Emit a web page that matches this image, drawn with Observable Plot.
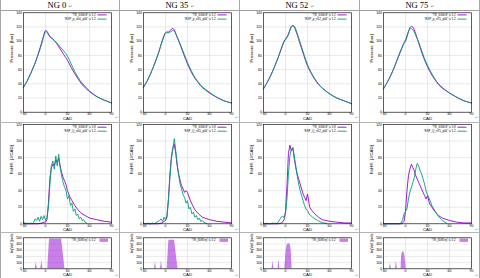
<!DOCTYPE html>
<html><head><meta charset="utf-8">
<script src="https://cdn.jsdelivr.net/npm/d3@7"></script>
<script src="https://cdn.jsdelivr.net/npm/@observablehq/plot@0.6"></script>
<style>
body{margin:0;background:#fff;}
#root{position:relative;width:480px;height:278px;overflow:hidden;background:#fff;}
.vline{position:absolute;top:0;height:278px;width:1px;background:#a8a8a8;}
.hline{position:absolute;left:0;width:480px;background:#b4b4b4;}
.head{position:absolute;top:0;width:120px;text-align:center;font-family:"Liberation Serif",serif;font-size:8.5px;line-height:11px;color:#000;}
.head span{color:#999;font-size:5px;font-family:"DejaVu Sans",sans-serif;}
.panel{position:absolute;}
.pm{position:absolute;color:#999;font-size:4.5px;line-height:4.5px;font-family:"DejaVu Sans",sans-serif;}
</style></head><body><div id="root"></div>
<script>
// ---------- data ----------
const columns = ["NG 0", "NG 35", "NG 52", "NG 75"];
const xTicks = [-30, 0, 30, 60, 90];
const pTicks = [0, 20, 40, 60, 80, 100, 120, 140];
const rTicks = [0, 20, 40, 60, 80, 100, 120];
const iTicks = [0, 100, 200, 300, 400, 500];

// Pressure [bar]
const pCad = [-30,-25,-20,-15,-10,-5,-2,0,2,4,6,8,10,12,15,20,25,30,35,40,45,50,60,70,80,90];
const pSimNG0 = [35,44,55,67,82,99,110,115,114,110,107,105,103,101,97,89,81,73,63,54,46,39,29,22,17,13];
const pExpNG0 = [35,44,55,67,81,97,108,113,113,109,106,104,103,101,98,92,86,79,68,57,48,41,30,22,17,13];
const pSimNG35 = [35,44,55,68,82,99,108,112,113,113,114,117,118,116,108,95,81,68,57,48,41,35,27,21,16,13];
const pExpNG35 = [35,44,55,68,82,98,107,111,112,112,112,114,115,114,108,96,83,70,59,49,42,36,28,21,16,13];
const pSimNG52 = [33,42,52,64,77,92,100,103,106,110,116,121,122,120,112,96,80,65,55,46,39,34,26,20,16,12];
const pExpNG52 = [33,42,52,64,77,91,99,102,105,109,115,120,122,121,114,98,82,67,56,47,40,34,26,20,16,12];
const pSimNG75 = [33,42,52,64,77,90,97,100,106,113,119,121,120,116,107,91,76,64,54,46,39,34,27,21,16,13];
const pExpNG75 = [33,42,52,64,78,91,98,102,108,114,117,118,116,113,106,93,78,66,56,47,40,35,27,21,16,13];

// RoHR [J/CAD] simulation
const rCad = [-30,-10,-5,-2,0,2,4,6,8,10,12,14,16,18,20,22,24,26,28,30,33,36,40,45,50,60,70,80,90];
const rSimNG0 = [0,0,1,2,2,5,25,55,68,72,70,77,74,79,70,62,56,52,47,40,33,28,22,16,12,7,5,3,2];
const rSimNG35 = [0,0,1,3,4,8,30,60,80,92,96,85,70,60,52,46,42,38,40,38,30,24,17,12,8,5,3,2,1];
const rSimNG52 = [0,0,1,5,15,45,85,95,88,92,78,68,60,54,48,42,36,32,28,36,20,16,12,8,5,3,2,1,1];
const rSimNG75 = [0,0,0,3,15,40,58,66,72,68,64,58,54,50,46,42,38,34,30,34,24,20,15,10,7,4,2,1,1];

// RoHR [J/CAD] experiment
const eCad = [-30,-28,-26,-24,-22,-20,-18,-16,-14,-12,-10,-8,-6,-4,-2,0,2,4,6,8,10,12,14,16,18,20,22,24,26,28,30,32,34,36,38,40,42,44,46,48,50,52,54,56];
const eExpNG0 = [2,1,0,1,0,1,0,2,6,4,8,3,9,5,10,4,8,20,48,70,76,66,82,70,84,68,58,50,44,40,30,34,22,25,15,18,10,12,6,8,4,5,2,1];
const eExpNG35 = [1,0,0,1,0,0,1,0,1,2,3,4,6,3,8,5,10,28,55,78,90,103,88,72,58,48,42,35,32,25,28,18,20,12,14,8,10,5,7,3,4,2,1,0];
const eExpNG52 = [0,0,1,0,0,0,1,0,1,0,2,5,8,9,8,12,30,60,82,90,92,82,70,58,48,40,34,28,22,18,16,12,10,9,7,6,5,4,3,2,2,1,1,0];
const eExpNG75 = [0,0,0,0,0,0,0,0,0,0,0,0,1,5,12,15,18,30,38,44,50,56,66,73,70,64,60,54,48,40,35,31,27,22,19,16,13,10,8,6,4,3,2,1];

// Injection velocity
const iCadNG0 = [-14,-12.5,-11,-6.5,-5,-3.5,3,5.5,22,26.5];
const iVelNG0 = [0,100,0,0,130,0,0,480,480,0];
const iCadNG35 = [-15,-13.7,-12.4,-6.8,-5.5,-4.2,2.3,4.6,12.4,17];
const iVelNG35 = [0,110,0,0,130,0,0,460,460,0];
const iCadNG52 = [-18.3,-17,-15.7,-10.3,-9,-7.7,-1,0,1,2,3.5,5.5,7,8,9];
const iVelNG52 = [0,120,0,0,150,0,0,150,300,370,405,405,370,250,0];
const iCadNG75 = [-21.9,-20.6,-19.3,-13.7,-12.4,-11.1,-6,-5.5,-4.5,-3,-1.5,-0.5,1];
const iVelNG75 = [0,90,0,0,120,0,0,180,260,275,260,180,0];

const simLabels = ['"TR_65W.ifl" u 1:2', '"TR_65W.ifl" u 1:8', '"TR_65W.inj" u 1:2'];
const expP = ['"EXP_p_n00_p00" u 1:2', '"EXP_p_n35_p00" u 1:2', '"EXP_p_n52_p00" u 1:2', '"EXP_p_n75_p00" u 1:2'];
const expQ = ['"EXP_Q_n00_p00" u 1:2', '"EXP_Q_n35_p00" u 1:2', '"EXP_Q_n52_p00" u 1:2', '"EXP_Q_n75_p00" u 1:2'];

const PURPLE = "#9400d3", TEAL = "#009e73";
const FONT = "'Liberation Sans', Arial, sans-serif";

const pressure = [[pSimNG0,pExpNG0],[pSimNG35,pExpNG35],[pSimNG52,pExpNG52],[pSimNG75,pExpNG75]];
const rohrSim = [rSimNG0, rSimNG35, rSimNG52, rSimNG75];
const rohrExp = [eExpNG0, eExpNG35, eExpNG52, eExpNG75];
const inj = [[iCadNG0,iVelNG0],[iCadNG35,iVelNG35],[iCadNG52,iVelNG52],[iCadNG75,iVelNG75]];

const zip = (xs, ys) => xs.map((x, i) => ({x, y: ys[i]}));

// ---------- layout ----------
const root = document.getElementById("root");
function div(cls, style, html) {
  const d = document.createElement("div");
  d.className = cls; Object.assign(d.style, style);
  if (html != null) d.innerHTML = html;
  root.appendChild(d); return d;
}

function panel({height, mt, mb, yDomain, yTicks, yLabel, marks}) {
  return Plot.plot({
    width: 120, height,
    marginLeft: 23, marginRight: 9, marginTop: mt, marginBottom: mb,
    style: {background: "transparent", fontFamily: FONT, fontSize: "3.5px", color: "#000", overflow: "visible"},
    x: {domain: [-30, 90]},
    y: {domain: yDomain},
    marks: [
      Plot.gridX({ticks: xTicks, stroke: "#d4d4d4", strokeOpacity: 1, strokeWidth: 0.5}),
      Plot.gridY({ticks: yTicks, stroke: "#d4d4d4", strokeOpacity: 1, strokeWidth: 0.5}),
      ...marks,
      Plot.frame({stroke: "#000", strokeWidth: 0.6}),
      Plot.axisX({ticks: xTicks, tickSize: 0, tickPadding: 0.5, fontSize: 3.5, label: null}),
      Plot.axisY({ticks: yTicks, tickSize: 0, tickPadding: 1.5, fontSize: 3.5, label: null}),
      Plot.text(["CAD"], {frameAnchor: "bottom", dy: 7.3, fontSize: 4.3}),
      Plot.text([yLabel], {frameAnchor: "left", dx: -11.5, rotate: -90, fontSize: 4.3})
    ]
  });
}

function legend(svg, rows, y0, dy) {
  const g = d3.select(svg).append("g").attr("font-family", FONT).attr("font-size", 2.9);
  rows.forEach((r, i) => {
    const y = y0 + i * dy;
    g.append("text").attr("x", 95.5).attr("y", y).attr("dy", "0.35em").attr("text-anchor", "end").attr("fill", "#000").text(r.label);
    if (r.box) g.append("rect").attr("x", 99.5).attr("y", y - 1.7).attr("width", 8.5).attr("height", 3.4).attr("fill", r.color).attr("fill-opacity", 0.5);
    else g.append("line").attr("x1", 97.5).attr("x2", 106.5).attr("y1", y).attr("y2", y).attr("stroke", r.color).attr("stroke-width", 0.9);
  });
}

columns.forEach((name, c) => {
  const x0 = c * 120;
  div("head", {left: x0 + "px"}, name + ' <span>↵</span>');

  // pressure
  const [ps, pe] = pressure[c];
  const sp = panel({height: 110, mt: 1.3, mb: 9.3, yDomain: [0, 140], yTicks: pTicks, yLabel: "Pressure  [bar]",
    marks: [
      Plot.line(zip(pCad, ps), {x: "x", y: "y", stroke: PURPLE, strokeWidth: 0.9, curve: "catmull-rom"}),
      Plot.line(zip(pCad, pe), {x: "x", y: "y", stroke: TEAL, strokeWidth: 0.9, curve: "catmull-rom"})
    ]});
  legend(sp, [{label: simLabels[0], color: PURPLE}, {label: expP[c], color: TEAL}], 3.9, 4.2);
  div("panel", {left: x0 + "px", top: "11px"}).appendChild(sp);

  // RoHR
  const sr = panel({height: 109, mt: 1, mb: 8.7, yDomain: [0, 120], yTicks: rTicks, yLabel: "RoHR  [J/CAD]",
    marks: [
      Plot.line(zip(rCad, rohrSim[c]), {x: "x", y: "y", stroke: PURPLE, strokeWidth: 0.9}),
      Plot.line(zip(eCad, rohrExp[c]), {x: "x", y: "y", stroke: TEAL, strokeWidth: 0.9})
    ]});
  legend(sr, [{label: simLabels[1], color: PURPLE}, {label: expQ[c], color: TEAL}], 4.2, 4.0);
  div("panel", {left: x0 + "px", top: "123px"}).appendChild(sr);

  // injection
  const [ic, iv] = inj[c];
  const si = panel({height: 45, mt: 4.3, mb: 9.7, yDomain: [0, 500], yTicks: iTicks, yLabel: "InjVel [m/s]",
    marks: [
      Plot.areaY(zip(ic, iv), {x: "x", y: "y", fill: PURPLE, fillOpacity: 0.5})
    ]});
  legend(si, [{label: simLabels[2], color: PURPLE, box: true}], 7.2, 4);
  div("panel", {left: x0 + "px", top: "233px"}).appendChild(si);

  // paragraph marks
  div("pm", {left: (x0 + 115) + "px", top: "116px"}, "↵");
  div("pm", {left: (x0 + 115) + "px", top: "227.5px"}, "↵");
  div("pm", {left: (x0 + 115) + "px", top: "273.5px"}, "↵");
});

// table borders
[0, 119, 239, 359, 479].forEach(x => div("vline", {left: x + "px"}));
div("hline", {top: "9.5px", height: "1.5px", background: "#a0a0a0"});
div("hline", {top: "121.5px", height: "1px"});
div("hline", {top: "232px", height: "1px"});
</script>
</body></html>
